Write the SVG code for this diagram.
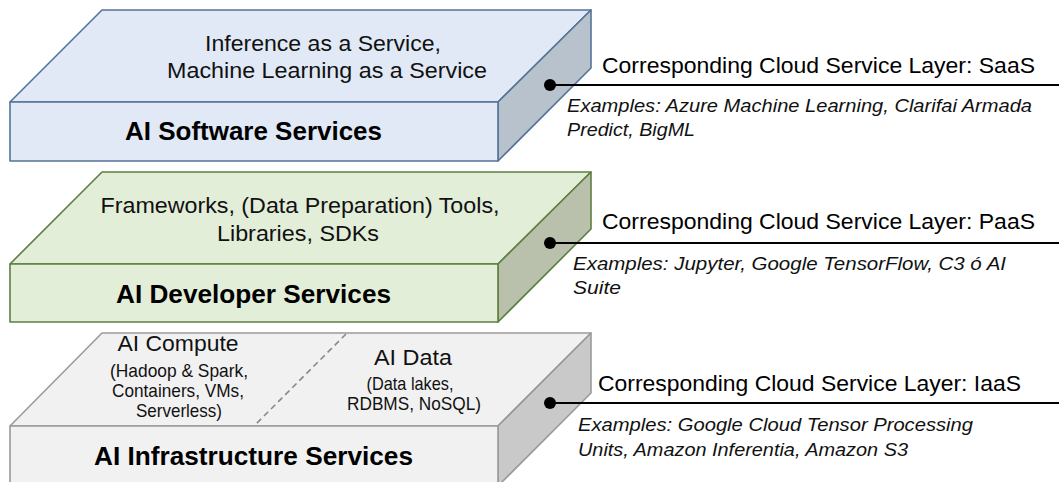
<svg xmlns="http://www.w3.org/2000/svg" width="1059" height="482" viewBox="0 0 1059 482">
  <style>
    .face { stroke-width: 1.6; stroke-linejoin: round; }
    .blue .top, .blue .front { fill: #e0e9f5; stroke: #557399; }
    .blue .side { fill: #b8c2cc; stroke: #557399; }
    .green .top, .green .front { fill: #e3eed9; stroke: #5e7f42; }
    .green .side { fill: #b9c1ad; stroke: #5e7f42; }
    .grey .top, .grey .front { fill: #f1f1f1; stroke: #9a9a9a; }
    .grey .side { fill: #c9c9c9; stroke: #9a9a9a; }
    text { font-family: "Liberation Sans", Arial, sans-serif; fill: #111; }
    .desc { font-size: 22.5px; text-anchor: middle; }
    .small { font-size: 19px; text-anchor: middle; }
    .name { font-size: 25px; font-weight: bold; fill: #000; }
    .layer { font-size: 22.5px; fill: #000; }
    .ex { font-size: 19px; font-style: italic; }
    .lead { stroke: #000; stroke-width: 2; fill: none; }
    .pin { fill: #000; }
    .split { stroke: #8a8a8a; stroke-width: 1.6; stroke-dasharray: 6 4; fill: none; }
  </style>

  <!-- Software layer (SaaS) -->
  <g id="ai-software-services" class="blue">
    <polygon class="face top" points="10,102 102,10 591,10 498,102"/>
    <polygon class="face side" points="498,102 591,10 591,68 498,161"/>
    <rect class="face front" x="10" y="102" width="488" height="59"/>
    <text class="desc" x="323" y="51" textLength="236" lengthAdjust="spacingAndGlyphs">Inference as a Service,</text>
    <text class="desc" x="327" y="78" textLength="320" lengthAdjust="spacingAndGlyphs">Machine Learning as a Service</text>
    <text class="name" x="125" y="140" textLength="257" lengthAdjust="spacingAndGlyphs">AI Software Services</text>
  </g>

  <!-- Developer layer (PaaS) -->
  <g id="ai-developer-services" class="green">
    <polygon class="face top" points="10,264 102,172 591,172 498,264"/>
    <polygon class="face side" points="498,264 591,172 591,229 498,322"/>
    <rect class="face front" x="10" y="264" width="488" height="58"/>
    <text class="desc" x="300" y="213" textLength="399" lengthAdjust="spacingAndGlyphs">Frameworks, (Data Preparation) Tools,</text>
    <text class="desc" x="298" y="241" textLength="162" lengthAdjust="spacingAndGlyphs">Libraries, SDKs</text>
    <text class="name" x="116" y="303" textLength="275" lengthAdjust="spacingAndGlyphs">AI Developer Services</text>
  </g>

  <!-- Infrastructure layer (IaaS) -->
  <g id="ai-infrastructure-services" class="grey">
    <polygon class="face top" points="10,426 102,333 591,333 498,426"/>
    <polygon class="face side" points="498,426 591,333 591,393 498,486"/>
    <rect class="face front" x="10" y="426" width="488" height="60"/>
    <line class="split" x1="346" y1="334" x2="255" y2="425"/>
    <text class="desc" x="178" y="351" textLength="121" lengthAdjust="spacingAndGlyphs">AI Compute</text>
    <text class="small" x="179" y="377" textLength="138" lengthAdjust="spacingAndGlyphs">(Hadoop &amp; Spark,</text>
    <text class="small" x="178" y="397" textLength="132" lengthAdjust="spacingAndGlyphs">Containers, VMs,</text>
    <text class="small" x="179" y="417" textLength="86" lengthAdjust="spacingAndGlyphs">Serverless)</text>
    <text class="desc" x="413" y="365" textLength="78" lengthAdjust="spacingAndGlyphs">AI Data</text>
    <text class="small" x="410" y="390" textLength="87" lengthAdjust="spacingAndGlyphs">(Data lakes,</text>
    <text class="small" x="414" y="410" textLength="134" lengthAdjust="spacingAndGlyphs">RDBMS, NoSQL)</text>
    <text class="name" x="94" y="465" textLength="319" lengthAdjust="spacingAndGlyphs">AI Infrastructure Services</text>
  </g>

  <!-- Leader lines to the cloud service layer notes -->
  <g id="connectors">
    <line class="lead" x1="550" y1="85" x2="1059" y2="85"/>
    <circle class="pin" cx="550" cy="85" r="6"/>
    <line class="lead" x1="550" y1="243" x2="1059" y2="243"/>
    <circle class="pin" cx="550" cy="243" r="6"/>
    <line class="lead" x1="550" y1="403" x2="1059" y2="403"/>
    <circle class="pin" cx="550" cy="403" r="6"/>
  </g>

  <!-- Cloud service layer notes -->
  <g id="note-saas">
    <text class="layer" x="602" y="73" textLength="433" lengthAdjust="spacingAndGlyphs">Corresponding Cloud Service Layer: SaaS</text>
    <text class="ex" x="567" y="112" textLength="465" lengthAdjust="spacingAndGlyphs">Examples: Azure Machine Learning, Clarifai Armada</text>
    <text class="ex" x="567" y="136" textLength="128" lengthAdjust="spacingAndGlyphs">Predict, BigML</text>
  </g>
  <g id="note-paas">
    <text class="layer" x="602" y="229" textLength="433" lengthAdjust="spacingAndGlyphs">Corresponding Cloud Service Layer: PaaS</text>
    <text class="ex" x="573" y="270" textLength="433" lengthAdjust="spacingAndGlyphs">Examples: Jupyter, Google TensorFlow, C3 ó AI</text>
    <text class="ex" x="573" y="294" textLength="48" lengthAdjust="spacingAndGlyphs">Suite</text>
  </g>
  <g id="note-iaas">
    <text class="layer" x="598" y="391" textLength="423" lengthAdjust="spacingAndGlyphs">Corresponding Cloud Service Layer: IaaS</text>
    <text class="ex" x="578" y="431" textLength="395" lengthAdjust="spacingAndGlyphs">Examples: Google Cloud Tensor Processing</text>
    <text class="ex" x="578" y="456" textLength="330" lengthAdjust="spacingAndGlyphs">Units, Amazon Inferentia, Amazon S3</text>
  </g>
</svg>
